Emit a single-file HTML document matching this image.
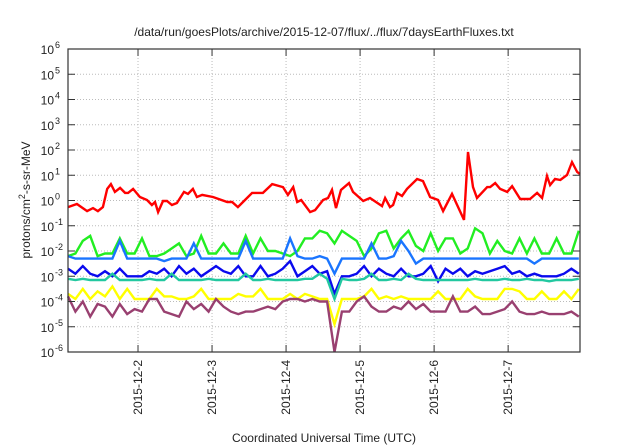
<!DOCTYPE html>
<html><head><meta charset="utf-8"><style>
html,body{margin:0;padding:0;background:#fff}
svg{display:block;font-family:"Liberation Sans",sans-serif}
</style></head><body>
<svg id="chart" width="640" height="448" viewBox="0 0 640 448" xmlns="http://www.w3.org/2000/svg">
<rect width="640" height="448" fill="#fff"/>
<text x="324" y="36" font-size="12" text-anchor="middle" fill="#222">/data/run/goesPlots/archive/2015-12-07/flux/../flux/7daysEarthFluxes.txt</text>
<text x="324" y="442" font-size="12" text-anchor="middle" fill="#222">Coordinated Universal Time (UTC)</text>
<text transform="translate(30,200) rotate(-90)" font-size="12" text-anchor="middle" fill="#222">protons/cm<tspan dy="-5" font-size="9">2</tspan><tspan dy="5">-s-sr-MeV</tspan></text>
<g id="grid"></g>
<g id="series"></g>
<g id="axes"></g>
</svg>
<script>
const dayLabels = ["2015-12-2","2015-12-3","2015-12-4","2015-12-5","2015-12-6","2015-12-7"];
const dayHours = [24,48,72,96,120,144];
const yTickExps = [-6,-5,-4,-3,-2,-1,0,1,2,3,4,5,6];
const redHours = [1.3,4.2,7.5,9.4,11,12.6,14,15.2,16.5,18.2,19.8,20.8,22.4,24.6,26.9,28.5,29.5,30.5,32.1,33.4,35,36.6,38.9,40.2,41.8,43.1,44.8,48.3,52.9,54.5,56.4,58.7,61,64.5,67.5,71,72.6,74.3,75.6,76.9,79.8,81.4,84,85.6,86.9,88.2,89.8,92.4,93.7,97,99.2,103.1,104.1,105.7,106.7,108,109.6,111.2,114.5,116.4,118.7,121.3,122.9,125.8,129.7,131,132.6,133.9,137.2,138.2,139.8,141.4,143.7,145.3,147.9,151.1,153.4,155,156.6,157.6,159.2,160.9,163.1,164.7,166.4,167.3];
const redLog = [-0.26,-0.14,-0.42,-0.30,-0.42,-0.26,0.46,0.65,0.34,0.50,0.30,0.30,0.46,0.14,0.02,-0.18,-0.06,-0.46,-0.02,-0.02,-0.18,-0.10,0.34,0.26,0.46,0.14,0.22,0.14,-0.06,-0.06,-0.26,0.02,0.30,0.30,0.65,0.53,0.22,0.53,-0.06,0.02,-0.46,-0.38,0.02,0.10,0.42,-0.30,0.42,0.69,0.34,-0.02,0.10,-0.22,0.10,-0.26,-0.18,0.30,0.18,0.46,0.85,0.77,0.14,0.02,-0.42,0.26,-0.77,1.92,0.53,0.10,0.53,0.53,0.69,0.46,0.34,0.57,0.06,0.06,0.30,0.10,0.97,0.61,0.85,0.81,1.01,1.52,1.13,1.05];
const greenLog = [-2.2,-2.1,-1.6,-1.4,-2.2,-2.1,-2.1,-1.5,-2.1,-2.1,-1.5,-2.2,-2.2,-2.1,-1.9,-1.7,-2.2,-2.1,-1.4,-2.1,-2.1,-1.7,-2.1,-2.1,-1.4,-2.1,-1.5,-2.0,-2.0,-2.1,-2.2,-2.0,-1.5,-1.5,-1.2,-1.3,-1.7,-1.2,-1.4,-1.6,-2.2,-1.9,-1.3,-1.2,-1.9,-1.5,-1.2,-1.8,-2.0,-1.3,-2.0,-1.5,-1.5,-2.1,-1.9,-1.1,-1.3,-2.1,-1.6,-2.0,-2.1,-1.5,-2.1,-1.5,-2.1,-2.1,-1.5,-2.1,-2.1,-1.2];
const lightBlueLog = [-2.2,-2.3,-2.3,-2.3,-2.3,-2.3,-2.3,-1.6,-2.3,-2.3,-2.3,-2.3,-2.3,-2.4,-2.3,-2.3,-2.3,-1.7,-2.3,-2.3,-2.3,-2.3,-2.3,-2.3,-1.6,-2.3,-2.3,-2.3,-2.3,-2.3,-1.5,-2.2,-2.3,-2.3,-2.2,-2.3,-2.9,-2.3,-2.3,-2.3,-2.3,-1.7,-2.3,-2.3,-2.2,-1.6,-2.0,-2.5,-2.3,-2.3,-2.3,-2.3,-2.3,-2.3,-2.3,-2.3,-2.3,-2.3,-2.3,-2.3,-2.3,-2.3,-2.3,-2.5,-2.3,-2.3,-2.3,-2.3,-2.3,-2.3];
const blueLog = [-2.7,-2.9,-2.6,-2.9,-3.0,-2.8,-3.0,-2.7,-3.0,-3.0,-3.0,-2.8,-2.9,-2.7,-3.0,-2.6,-2.9,-2.7,-3.0,-2.8,-2.6,-2.8,-2.9,-2.6,-3.0,-3.0,-2.6,-3.0,-2.9,-2.7,-2.4,-3.0,-2.8,-2.6,-2.9,-2.8,-3.7,-3.0,-3.0,-2.9,-2.6,-3.0,-2.7,-2.9,-3.0,-2.7,-3.0,-3.0,-2.9,-2.6,-3.2,-2.7,-2.9,-2.7,-3.0,-2.8,-2.9,-2.8,-2.7,-2.6,-2.9,-2.8,-3.0,-2.9,-3.0,-3.0,-3.0,-2.9,-2.7,-2.9];
const tealLog = [-3.1,-3.15,-3.1,-3.15,-3.15,-3.15,-2.9,-3.15,-3.15,-3.15,-3.15,-3.1,-3.15,-3.15,-2.9,-3.15,-3.15,-3.15,-3.15,-3.1,-3.15,-3.15,-3.15,-3.15,-2.9,-3.15,-3.15,-3.1,-3.15,-3.15,-3.15,-3.15,-3.1,-3.1,-2.9,-3.1,-3.9,-3.1,-3.15,-3.15,-3.1,-2.9,-3.15,-3.15,-3.1,-3.15,-2.9,-3.1,-3.15,-3.15,-3.15,-3.15,-3.15,-3.15,-3.15,-3.1,-3.15,-3.15,-3.15,-3.1,-3.15,-3.15,-3.1,-3.15,-3.15,-3.2,-3.15,-3.15,-3.15,-3.1];
const yellowLog = [-3.7,-3.9,-3.5,-3.9,-3.6,-3.8,-3.4,-3.9,-3.5,-3.9,-3.9,-3.9,-3.5,-3.8,-3.8,-3.9,-3.9,-3.8,-3.5,-3.9,-3.9,-3.9,-3.9,-3.7,-3.8,-3.8,-3.5,-3.9,-3.9,-3.9,-3.7,-3.9,-3.7,-3.8,-3.9,-3.9,-4.9,-3.9,-3.9,-3.9,-3.8,-3.5,-3.9,-3.8,-3.9,-3.8,-3.9,-3.9,-3.9,-3.9,-3.6,-3.9,-3.9,-3.9,-3.5,-3.8,-3.9,-3.9,-3.9,-3.5,-3.5,-3.6,-3.9,-3.9,-3.6,-3.9,-3.9,-3.6,-3.9,-3.5];
const purpleLog = [-3.8,-4.4,-4.0,-4.6,-4.1,-4.2,-4.6,-4.1,-4.5,-4.3,-4.4,-3.9,-3.9,-4.4,-4.5,-4.6,-4.0,-4.3,-4.1,-4.4,-3.9,-4.2,-4.4,-4.5,-4.4,-4.4,-4.3,-4.2,-4.3,-4.0,-3.9,-3.9,-4.0,-3.9,-4.0,-4.0,-6.0,-4.4,-4.4,-4.0,-3.8,-4.2,-4.4,-4.4,-4.2,-4.3,-4.0,-4.3,-4.1,-4.4,-4.4,-4.4,-3.8,-4.4,-4.4,-4.2,-4.5,-4.5,-4.4,-4.3,-4.0,-4.4,-4.5,-4.5,-4.4,-4.5,-4.5,-4.5,-4.4,-4.6];

const NS="http://www.w3.org/2000/svg";
const L=68,R=580,T=49,B=352;
const H0=1.3,H1=167.3;
const xS=h=>L+(h-H0)/(H1-H0)*(R-L);
const yS=v=>B-(v+6)/12*(B-T);
function mk(tag,attrs,parent){const e=document.createElementNS(NS,tag);for(const k in attrs)e.setAttribute(k,attrs[k]);parent.appendChild(e);return e;}
const grid=document.getElementById('grid'),axes=document.getElementById('axes'),ser=document.getElementById('series');

yTickExps.forEach(ex=>{
  const y=yS(ex);
  if(ex>-6&&ex<6){const g=mk('line',{x1:L,x2:R,y1:y,y2:y,stroke:'#bbb','stroke-width':1,'stroke-dasharray':'1,2'},grid);
  
  }
  mk('line',{x1:L,x2:L+7,y1:y,y2:y,stroke:'#333','stroke-width':1},axes);
  mk('line',{x1:R,x2:R-7,y1:y,y2:y,stroke:'#333','stroke-width':1},axes);
  const t=mk('text',{x:L-14,y:y+5,'font-size':12,'text-anchor':'end',fill:'#222'},axes);
  
  
  t.textContent='10';
  const s=mk('tspan',{x:L-13,y:y-1,'font-size':9,'text-anchor':'start'},t);s.textContent=String(ex);
  s.setAttribute('text-anchor','start');
});
// fix anchor: put base and exponent separately
dayHours.forEach((h,i)=>{
  const x=xS(h);
  const g=mk('line',{x1:x,x2:x,y1:T,y2:B,stroke:'#bbb','stroke-width':1,'stroke-dasharray':'1,2'},grid);
  
  
  mk('line',{x1:x,x2:x,y1:B,y2:B-7,stroke:'#333','stroke-width':1},axes);
  mk('line',{x1:x,x2:x,y1:T,y2:T+7,stroke:'#333','stroke-width':1},axes);
  const t=mk('text',{transform:`translate(${x+4},${B+8}) rotate(-90)`,'font-size':12,'text-anchor':'end',fill:'#222'},axes);
  
  
  t.textContent=dayLabels[i];
});
const frame=mk('rect',{x:L,y:T,width:R-L,height:B-T,fill:'none',stroke:'#333','stroke-width':1.2},axes);



function drawLine(hours,vals,color,name){
  const pts=vals.map((v,i)=>xS(hours?hours[i]:H0+i*(H1-H0-0.4)/(vals.length-1)).toFixed(1)+','+yS(Math.max(-6,v)).toFixed(1)).join(' ');
  const p=mk('polyline',{points:pts,fill:'none',stroke:color,'stroke-width':2.4,'stroke-linejoin':'miter'},ser);
  
  
}
drawLine(null,greenLog,'#22ee22','series-green');
drawLine(null,lightBlueLog,'#1a75ff','series-light-blue');
drawLine(null,blueLog,'#0a0aee','series-blue');
drawLine(null,tealLog,'#22c8a0','series-teal');
drawLine(null,yellowLog,'#ffff00','series-yellow');
drawLine(null,purpleLog,'#994070','series-purple');
drawLine(redHours,redLog,'#ff0000','series-red');
</script>
</body></html>
